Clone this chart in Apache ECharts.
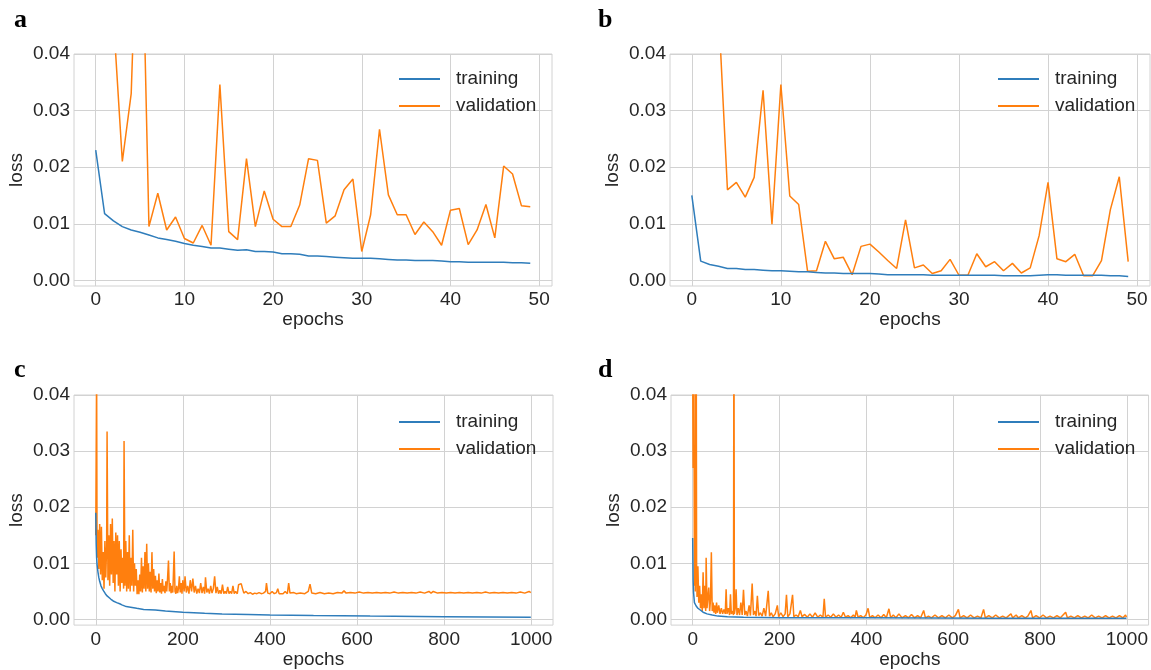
<!DOCTYPE html>
<html>
<head>
<meta charset="utf-8">
<script src="https://cdn.jsdelivr.net/npm/echarts@6/dist/echarts.min.js"></script>
<style>
  html, body { margin: 0; padding: 0; background: #fff; }
  #chart { width: 1151px; height: 670px; }
</style>
</head>
<body>
<div id="chart"></div>
<script>
// ---- data ----
// panel a / b : 50 epochs, one value per epoch
var trainA = [0.0230, 0.0118, 0.0105, 0.0095, 0.0089, 0.0085, 0.0080, 0.0075, 0.0072, 0.0069,
  0.0065, 0.0062, 0.0060, 0.0057, 0.0057, 0.0055, 0.0053, 0.0054, 0.0051, 0.0051,
  0.0050, 0.0047, 0.0047, 0.0046, 0.0043, 0.0043, 0.0042, 0.0041, 0.0040, 0.0039,
  0.0039, 0.0039, 0.0038, 0.0037, 0.0036, 0.0036, 0.0035, 0.0035, 0.0035, 0.0034,
  0.0033, 0.0033, 0.0032, 0.0032, 0.0032, 0.0032, 0.0032, 0.0031, 0.0031, 0.0030];
var valA = [0.2000, 0.0700, 0.0463, 0.0210, 0.0330, 0.0800, 0.0095, 0.0154, 0.0089, 0.0112,
  0.0074, 0.0066, 0.0097, 0.0062, 0.0346, 0.0086, 0.0072, 0.0215, 0.0095, 0.0158,
  0.0108, 0.0095, 0.0095, 0.0133, 0.0215, 0.0212, 0.0101, 0.0114, 0.0160, 0.0179,
  0.0051, 0.0116, 0.0267, 0.0151, 0.0116, 0.0116, 0.0081, 0.0103, 0.0086, 0.0062,
  0.0124, 0.0127, 0.0063, 0.0089, 0.0134, 0.0075, 0.0202, 0.0188, 0.0132, 0.0130];
var trainB = [0.0150, 0.0034, 0.0028, 0.0025, 0.0021, 0.0021, 0.0019, 0.0019, 0.0018, 0.0017,
  0.0017, 0.0016, 0.0015, 0.0015, 0.0014, 0.0013, 0.0013, 0.0012, 0.0012, 0.0012,
  0.0012, 0.0011, 0.0010, 0.0010, 0.0010, 0.0010, 0.0010, 0.0009, 0.0009, 0.0009,
  0.0009, 0.0009, 0.0009, 0.0009, 0.0009, 0.0008, 0.0008, 0.0008, 0.0008, 0.0009,
  0.0010, 0.0010, 0.0009, 0.0009, 0.0009, 0.0009, 0.0009, 0.0008, 0.0008, 0.0007];
var valB = [0.1200, 0.0900, 0.0600, 0.0480, 0.0160, 0.0173, 0.0147, 0.0182, 0.0336, 0.0099,
  0.0346, 0.0149, 0.0134, 0.0016, 0.0017, 0.0069, 0.0038, 0.0041, 0.0010, 0.0060,
  0.0064, 0.0050, 0.0035, 0.0021, 0.0107, 0.0022, 0.0027, 0.0012, 0.0017, 0.0037,
  0.0009, 0.0009, 0.0047, 0.0024, 0.0033, 0.0017, 0.0030, 0.0013, 0.0022, 0.0079,
  0.0173, 0.0038, 0.0033, 0.0046, 0.0008, 0.0008, 0.0035, 0.0125, 0.0183, 0.0033];

// panel c / d : 1000 epochs, [epoch, loss] readings
var trainC = [[0,0.0190],[1,0.0135],[2,0.0110],[3,0.0098],[5,0.0085],[7,0.0075],[9,0.0068],
  [12,0.0060],[15,0.0055],[18,0.0051],[22,0.0046],[26,0.0042],[30,0.0039],[35,0.0036],
  [40,0.0033],[48,0.0030],[55,0.0028],[60,0.0026],[70,0.0023],[80,0.0022],[94,0.0020],
  [110,0.0018],[137,0.0017],[160,0.0015],[200,0.0013],[250,0.0011],[290,0.0010],
  [350,0.0009],[400,0.0008],[500,0.0007],[630,0.0006],[800,0.0005],[999,0.0004]];
var valC = [[0,0.0150],[2,0.0450],[3,0.0110],[5,0.0160],[7,0.0090],[9,0.0170],[11,0.0080],
  [13,0.0165],[15,0.0070],[17,0.0120],[19,0.0055],[21,0.0140],[23,0.0075],[25,0.0130],
  [26,0.0335],[28,0.0070],[30,0.0150],[32,0.0060],[34,0.0170],[36,0.0080],[38,0.0180],
  [40,0.0065],[42,0.0140],[44,0.0050],[46,0.0155],[48,0.0080],[50,0.0150],[52,0.0060],
  [54,0.0140],[56,0.0050],[58,0.0125],[60,0.0065],[62,0.0110],[64,0.0055],[65,0.0318],
  [67,0.0060],[69,0.0140],[71,0.0050],[73,0.0120],[75,0.0055],[77,0.0150],[79,0.0050],
  [81,0.0110],[83,0.0060],[85,0.0160],[87,0.0050],[89,0.0100],[91,0.0060],[93,0.0090],
  [95,0.0045],[97,0.0070],[99,0.0045],[101,0.0080],[103,0.0050],[105,0.0110],[107,0.0048],
  [109,0.0095],[111,0.0055],[113,0.0120],[115,0.0050],[117,0.0135],[119,0.0055],[121,0.0100],
  [123,0.0050],[125,0.0085],[127,0.0048],[129,0.0120],[131,0.0055],[133,0.0090],[135,0.0050],
  [137,0.0078],[139,0.0047],[141,0.0070],[143,0.0050],[145,0.0082],[147,0.0048],[149,0.0065],
  [151,0.0046],[153,0.0072],[155,0.0050],[157,0.0060],[159,0.0047],[161,0.0068],[163,0.0050],
  [165,0.0075],[167,0.0105],[169,0.0050],[171,0.0065],[173,0.0047],[175,0.0060],[177,0.0048],
  [180,0.0121],[182,0.0050],[184,0.0046],[186,0.0060],[188,0.0047],[190,0.0055],[192,0.0077],
  [194,0.0048],[196,0.0065],[198,0.0046],[200,0.0070],[203,0.0050],[205,0.0077],[208,0.0048],
  [211,0.0060],[214,0.0046],[217,0.0070],[220,0.0050],[223,0.0073],[226,0.0048],[229,0.0060],
  [232,0.0046],[235,0.0055],[238,0.0047],[241,0.0065],[244,0.0047],[247,0.0058],[250,0.0046],
  [252,0.0075],[255,0.0048],[258,0.0055],[261,0.0046],[264,0.0060],[267,0.0047],[270,0.0055],
  [273,0.0077],[276,0.0047],[279,0.0058],[282,0.0046],[285,0.0052],[288,0.0046],[291,0.0062],
  [294,0.0046],[297,0.0050],[300,0.0046],[303,0.0058],[306,0.0046],[309,0.0050],[312,0.0046],
  [315,0.0060],[318,0.0046],[321,0.0050],[325,0.0046],[328,0.0062],[331,0.0060],[334,0.0064],
  [337,0.0055],[340,0.0047],[345,0.0050],[350,0.0046],[355,0.0048],[360,0.0045],[365,0.0047],
  [370,0.0046],[375,0.0048],[380,0.0046],[385,0.0047],[390,0.0050],[392,0.0065],[395,0.0047],
  [400,0.0046],[405,0.0050],[410,0.0046],[415,0.0048],[418,0.0055],[421,0.0046],[425,0.0047],
  [430,0.0046],[435,0.0050],[440,0.0046],[443,0.0065],[446,0.0047],[450,0.0046],[455,0.0048],
  [460,0.0046],[470,0.0047],[480,0.0046],[488,0.0050],[492,0.0063],[496,0.0047],[505,0.0046],
  [515,0.0048],[525,0.0046],[535,0.0047],[545,0.0046],[555,0.0048],[565,0.0047],[570,0.0051],
  [575,0.0047],[585,0.0048],[595,0.0047],[605,0.0049],[615,0.0047],[625,0.0048],[635,0.0047],
  [645,0.0048],[655,0.0047],[665,0.0048],[675,0.0047],[685,0.0049],[695,0.0047],[705,0.0048],
  [715,0.0047],[725,0.0048],[735,0.0047],[745,0.0049],[755,0.0047],[765,0.0050],[770,0.0047],
  [775,0.0050],[785,0.0047],[795,0.0048],[805,0.0047],[815,0.0048],[825,0.0047],[835,0.0048],
  [845,0.0047],[855,0.0048],[865,0.0047],[875,0.0048],[885,0.0047],[895,0.0049],[905,0.0047],
  [915,0.0048],[925,0.0047],[935,0.0048],[945,0.0047],[955,0.0048],[965,0.0047],[975,0.0049],
  [985,0.0047],[995,0.0050],[999,0.0048]];
var trainD = [[0,0.0145],[1,0.0070],[2,0.0048],[4,0.0030],[8,0.0024],[12,0.0020],[16,0.0018],
  [24,0.0013],[33,0.0010],[45,0.0008],[58,0.0006],[80,0.0005],[117,0.0004],[200,0.0003],
  [400,0.0003],[700,0.0002],[999,0.0002]];
var valD = [[0,0.0450],[1,0.0270],[2,0.0600],[3,0.0354],[4,0.0060],[5,0.0120],[6,0.0050],
  [7,0.0450],[8,0.0600],[9,0.0090],[10,0.0040],[12,0.0095],[14,0.0030],[16,0.0060],[18,0.0020],
  [20,0.0045],[22,0.0015],[24,0.0084],[26,0.0020],[28,0.0060],[30,0.0015],[31,0.0110],[33,0.0020],
  [35,0.0040],[37,0.0057],[39,0.0015],[41,0.0035],[43,0.0120],[45,0.0015],[47,0.0030],[49,0.0012],
  [51,0.0025],[53,0.0010],[55,0.0030],[57,0.0012],[60,0.0025],[63,0.0010],[66,0.0020],[69,0.0010],
  [72,0.0018],[75,0.0010],[77,0.0054],[79,0.0010],[82,0.0020],[85,0.0008],[87,0.0045],[89,0.0010],
  [92,0.0015],[94,0.0008],[95,0.0600],[96,0.0010],[98,0.0020],[100,0.0054],[102,0.0008],[105,0.0020],
  [108,0.0008],[111,0.0030],[114,0.0008],[117,0.0053],[120,0.0008],[123,0.0015],[126,0.0006],
  [130,0.0025],[133,0.0007],[137,0.0064],[140,0.0008],[143,0.0015],[146,0.0006],[149,0.0042],
  [152,0.0007],[156,0.0012],[160,0.0006],[164,0.0020],[168,0.0006],[174,0.0051],[177,0.0006],
  [181,0.0012],[185,0.0005],[190,0.0010],[195,0.0025],[198,0.0005],[203,0.0012],[208,0.0005],
  [213,0.0010],[216,0.0044],[219,0.0005],[224,0.0010],[230,0.0044],[233,0.0005],[238,0.0008],
  [243,0.0005],[248,0.0016],[252,0.0005],[258,0.0009],[264,0.0004],[270,0.0010],[276,0.0004],
  [282,0.0012],[288,0.0004],[294,0.0008],[300,0.0004],[303,0.0037],[306,0.0004],[312,0.0008],
  [318,0.0004],[324,0.0010],[330,0.0004],[336,0.0008],[342,0.0004],[347,0.0013],[352,0.0004],
  [358,0.0007],[364,0.0003],[370,0.0008],[374,0.0004],[377,0.0016],[381,0.0004],[387,0.0007],
  [393,0.0003],[399,0.0008],[404,0.0020],[408,0.0003],[414,0.0007],[420,0.0003],[427,0.0008],
  [434,0.0003],[440,0.0009],[446,0.0003],[452,0.0019],[456,0.0003],[462,0.0008],[468,0.0003],
  [475,0.0010],[482,0.0003],[490,0.0007],[497,0.0003],[504,0.0009],[511,0.0003],[518,0.0007],
  [525,0.0003],[532,0.0016],[536,0.0003],[543,0.0006],[550,0.0003],[558,0.0008],[566,0.0003],
  [574,0.0007],[582,0.0003],[590,0.0008],[598,0.0003],[605,0.0007],[612,0.0018],[616,0.0003],
  [624,0.0007],[632,0.0003],[640,0.0008],[648,0.0003],[656,0.0006],[664,0.0003],[670,0.0018],
  [674,0.0003],[682,0.0007],[690,0.0003],[698,0.0008],[706,0.0003],[714,0.0006],[722,0.0003],
  [733,0.0010],[737,0.0003],[745,0.0008],[750,0.0003],[758,0.0007],[766,0.0003],[772,0.0006],
  [779,0.0016],[783,0.0003],[791,0.0007],[799,0.0003],[807,0.0008],[815,0.0003],[823,0.0006],
  [831,0.0003],[839,0.0007],[847,0.0003],[859,0.0013],[863,0.0003],[871,0.0006],[879,0.0003],
  [887,0.0007],[895,0.0003],[903,0.0006],[911,0.0003],[919,0.0008],[927,0.0003],[935,0.0006],
  [943,0.0003],[951,0.0007],[959,0.0003],[967,0.0006],[975,0.0003],[983,0.0007],[991,0.0003],
  [997,0.0008],[999,0.0004]];

var yTicks = [0, 0.01, 0.02, 0.03, 0.04];
var xTicksShort = [0, 10, 20, 30, 40, 50];
var xTicksLong = [0, 200, 400, 600, 800, 1000];
var panelLetters = ['a', 'b', 'c', 'd'];

var BLUE = '#2f7dbb';
var ORANGE = '#ff7f0e';
var GRID = '#d2d2d2';
var TXT = '#262626';
var FONT = '"Liberation Sans", Arial, sans-serif';
var FS = 19;

function withEpoch(arr) {
  return arr.map(function (v, i) { return [i, v]; });
}

// layout of the 4 panels: frame box + legend pos + letter pos
var panels = [
  { left: 74,  top: 54,  width: 478, height: 232, xmin: -2.45, xmax: 51.45, xt: xTicksShort,
    train: withEpoch(trainA), val: withEpoch(valA), legX: 394, legY: 64, letX: 14, letY: 20, lm: 4 },
  { left: 670, top: 54,  width: 480, height: 232, xmin: -2.45, xmax: 51.45, xt: xTicksShort,
    train: withEpoch(trainB), val: withEpoch(valB), legX: 993, legY: 64, letX: 598, letY: 20, lm: 4 },
  { left: 74,  top: 395, width: 479, height: 233, xmin: -49.95, xmax: 1049.95, xt: xTicksLong,
    train: trainC, val: valC, legX: 394, legY: 407, letX: 14, letY: 370, lm: 5 },
  { left: 671, top: 395, width: 479, height: 233, xmin: -49.95, xmax: 1049.95, xt: xTicksLong,
    train: trainD, val: valD, legX: 993, legY: 407, letX: 598, letY: 370, lm: 5 }
];

var option = {
  animation: false,
  backgroundColor: '#ffffff',
  grid: [], xAxis: [], yAxis: [], series: [], legend: [], graphic: []
};

panels.forEach(function (p, i) {
  option.grid.push({
    left: p.left, top: p.top, width: p.width, height: p.height,
    show: true, borderColor: GRID, borderWidth: 1, backgroundColor: 'transparent'
  });
  option.xAxis.push({
    type: 'value', gridIndex: i, min: p.xmin, max: p.xmax,
    name: 'epochs', nameLocation: 'middle', nameGap: 20,
    nameTextStyle: { fontSize: FS, color: TXT, fontFamily: FONT },
    axisLine: { show: false },
    axisTick: { show: false, customValues: p.xt },
    axisLabel: { customValues: p.xt, fontSize: FS, color: TXT, fontFamily: FONT, margin: p.lm,
      formatter: function (v) { return String(Math.round(v)); } },
    splitLine: { show: true, lineStyle: { color: GRID, width: 1 } }
  });
  option.yAxis.push({
    type: 'value', gridIndex: i, min: -0.001, max: 0.04,
    name: 'loss', nameLocation: 'middle', nameGap: 48,
    nameTextStyle: { fontSize: FS, color: TXT, fontFamily: FONT },
    axisLine: { show: false },
    axisTick: { show: false, customValues: yTicks },
    axisLabel: { customValues: yTicks, fontSize: FS, color: TXT, fontFamily: FONT, margin: 4,
      formatter: function (v) { return v.toFixed(2); } },
    splitLine: { show: true, lineStyle: { color: GRID, width: 1 } }
  });
  option.series.push({
    name: 'training', type: 'line', xAxisIndex: i, yAxisIndex: i,
    data: p.train, showSymbol: false, symbol: 'none', color: BLUE,
    lineStyle: { color: BLUE, width: 1.5 }, silent: true, z: 3
  });
  option.series.push({
    name: 'validation', type: 'line', xAxisIndex: i, yAxisIndex: i,
    data: p.val, showSymbol: false, symbol: 'none', color: ORANGE,
    lineStyle: { color: ORANGE, width: 1.5 }, silent: true, z: 2
  });
  option.legend.push({
    data: ['training', 'validation'], orient: 'vertical',
    left: p.legX, top: p.legY, icon: 'rect', itemWidth: 41, itemHeight: 2, itemGap: 7,
    selectedMode: false,
    textStyle: { fontSize: FS, color: TXT, fontFamily: FONT, lineHeight: 20, padding: [0, 0, 0, 11] }
  });
  option.graphic.push({
    type: 'text', left: p.letX, top: p.letY - 13,
    style: { text: panelLetters[i], font: 'bold 26px "Liberation Serif", "Times New Roman", serif', fill: '#000' }
  });
});

var chart = echarts.init(document.getElementById('chart'));
chart.setOption(option);
</script>
</body>
</html>
